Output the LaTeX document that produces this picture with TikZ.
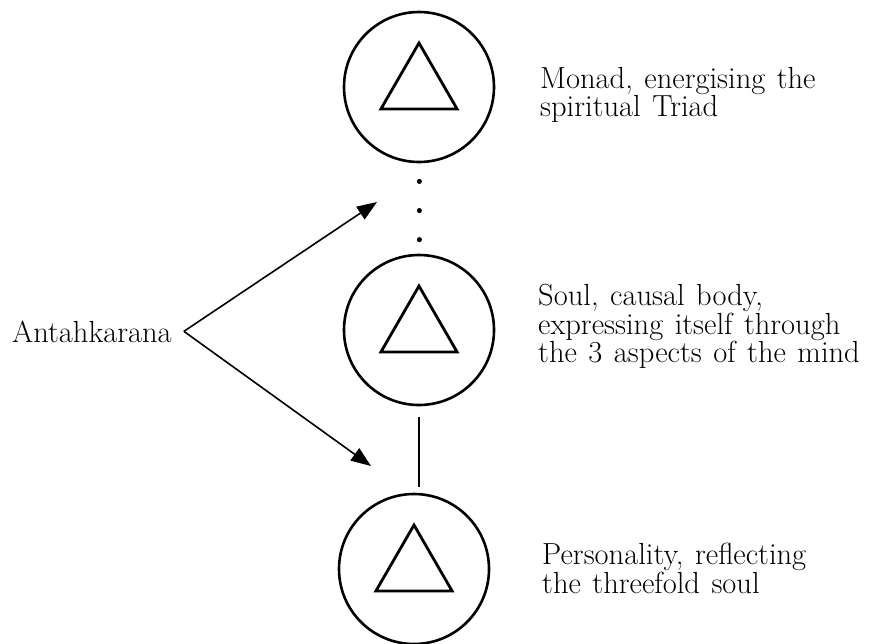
\documentclass[tikz,border=0pt]{standalone}
\usetikzlibrary{shapes.geometric,arrows.meta,positioning}
\newcommand\labfont{\fontsize{30.5}{24}\selectfont\spaceskip=11.5pt plus 2pt minus 2pt\relax}
\tikzset{
  ring/.style={circle, draw=black, line width=2.6pt, minimum size=150pt, inner sep=0pt},
  tri/.style={regular polygon, regular polygon sides=3, draw=black, line width=2.8pt,
              minimum size=88pt, inner sep=0pt},
  txt/.style={align=left, inner sep=0pt, anchor=north west, font=\labfont},
  ar/.style={-{Triangle[length=20pt,width=15pt]}, line width=1.6pt}
}
\begin{document}
\begin{tikzpicture}[x=1pt, y=-1pt]
\useasboundingbox (0,0) rectangle (875,643);
% ---- the three levels ----
\node[ring] (top) at (419,87) {};
\node[tri] (t1) at (top) {};
\node[ring] (mid) at (419,330) {};
\node[tri] (t2) at (mid) {};
\node[ring] (low) at (414,569) {};
\node[tri] (t3) at (low) {};
% ---- labels ----
\node[txt] (l1) at (540,67) {Monad, energising the\\spiritual Triad};
\node[txt] (l2) at (538,284) {Soul, causal body,\\expressing itself through\\the 3 aspects of the mind};
\node[txt] (l3) at (542,543) {Personality, reflecting\\the threefold soul};
\node[txt, anchor=base west, inner xsep=12pt] (ant) at (0,342) {Antahkarana};
% ---- connectors ----
\coordinate (up) at (377,202);
\coordinate (dn) at (371,466);
\draw[ar] (ant.east) -- (up);
\draw[ar] (ant.east) -- (dn);
\draw[line width=5pt, line cap=round, dash pattern=on 0.1pt off 29pt, dash phase=11pt] (top.south) -- (mid.north);
\draw[line width=1.8pt, shorten <=10.7pt, shorten >=5.7pt] (mid.south) -- (mid.south |- low.north);
\end{tikzpicture}
\end{document}
